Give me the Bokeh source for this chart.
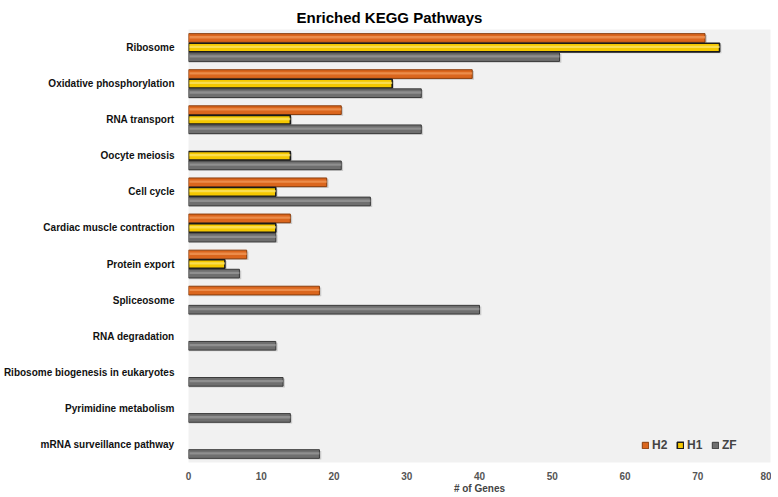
from bokeh.plotting import figure
from bokeh.models import ColumnDataSource, FactorRange, Legend, LegendItem, FixedTicker
from bokeh.transform import dodge
from bokeh.embed import file_html
from bokeh.resources import INLINE

pathways = ["Ribosome", "Oxidative phosphorylation", "RNA transport", "Oocyte meiosis",
            "Cell cycle", "Cardiac muscle contraction", "Protein export", "Spliceosome",
            "RNA degradation", "Ribosome biogenesis in eukaryotes", "Pyrimidine metabolism",
            "mRNA surveillance pathway"]
h2 = [71, 39, 21, 0, 19, 14, 8, 18, 0, 0, 0, 0]
h1 = [73, 28, 14, 14, 12, 12, 5, 0, 0, 0, 0, 0]
zf = [51, 32, 32, 21, 25, 12, 7, 40, 12, 13, 14, 18]
x_ticks = [0, 10, 20, 30, 40, 50, 60, 70, 80]

series = [
    ("H2", h2, 0.265, "#DB661D", "#8A3D0C", "#F29A5A", 1.0),
    ("H1", h1, 0.0, "#F5C800", "#1A1A1A", "#FBE46A", 1.6),
    ("ZF", zf, -0.265, "#6F6F6F", "#3A3A3A", "#9A9A9A", 1.0),
]

FONT = "Liberation Sans"

p = figure(frame_width=582, frame_height=433, output_backend="svg", toolbar_location=None,
           y_range=FactorRange(*pathways[::-1], range_padding=0),
           x_range=(0, 80),
           min_border_left=179, min_border_right=1, min_border_top=29, min_border_bottom=0,
           title="Enriched KEGG Pathways")

p.background_fill_color = "#F1F1F1"
p.border_fill_color = "white"
p.outline_line_color = None
p.xgrid.grid_line_color = None
p.ygrid.grid_line_color = None

p.title.text_font = FONT
p.title.text_font_size = "15px"
p.title.text_font_style = "bold"
p.title.text_color = "#000000"
p.title.align = "left"
p.title.vertical_align = "top"
p.title.offset = 108
p.title.standoff = 3

items = []
for name, vals, off, fill, line, hi, lw in series:
    cats = [c for c, v in zip(pathways, vals) if v > 0]
    vv = [v for v in vals if v > 0]
    src = ColumnDataSource(dict(cat=cats, val=vv, sh=[v + 0.25 for v in vv]))
    # soft shadow
    p.hbar(y=dodge("cat", off - 0.035, range=p.y_range), right="sh", left=0, height=0.24,
           source=src, fill_color="#000000", fill_alpha=0.16, line_color=None)
    r = p.hbar(y=dodge("cat", off, range=p.y_range), right="val", left=0, height=0.24,
               source=src, fill_color=fill, line_color=line, line_width=lw)
    # cylinder highlight
    p.hbar(y=dodge("cat", off + 0.02, range=p.y_range), right="val", left=0.15, height=0.065,
           source=src, fill_color=hi, fill_alpha=0.75, line_color=None)
    items.append(LegendItem(label=name, renderers=[r]))

legend = Legend(items=items, orientation="horizontal", location=(453, 10),
                background_fill_alpha=0, border_line_color=None,
                glyph_width=8, glyph_height=8, label_text_font=FONT,
                label_text_font_size="12px", label_text_font_style="bold",
                spacing=4, padding=0, margin=0, label_standoff=3)
p.add_layout(legend, "center")

p.xaxis.ticker = FixedTicker(ticks=x_ticks)
p.xaxis.axis_line_color = None
p.xaxis.major_tick_line_color = None
p.xaxis.minor_tick_line_color = None
p.xaxis.major_label_text_font = FONT
p.xaxis.major_label_text_font_size = "10px"
p.xaxis.major_label_text_font_style = "bold"
p.xaxis.major_label_text_color = "#555555"
p.xaxis.major_label_standoff = 3
p.xaxis.axis_label = "# of Genes"
p.xaxis.axis_label_text_font = FONT
p.xaxis.axis_label_text_font_size = "10px"
p.xaxis.axis_label_text_font_style = "bold"
p.xaxis.axis_label_standoff = 0

p.yaxis.axis_line_color = None
p.yaxis.major_tick_line_color = None
p.yaxis.minor_tick_line_color = None
p.yaxis.major_label_text_font = FONT
p.yaxis.major_label_text_font_size = "10px"
p.yaxis.major_label_text_font_style = "bold"
p.yaxis.major_label_text_color = "#111111"
p.yaxis.major_label_standoff = 8

html = file_html(p, INLINE)
html = html.replace("<head>", "<head><style>html,body{overflow:hidden;}</style>", 1)
open("out.html", "w").write(html)
